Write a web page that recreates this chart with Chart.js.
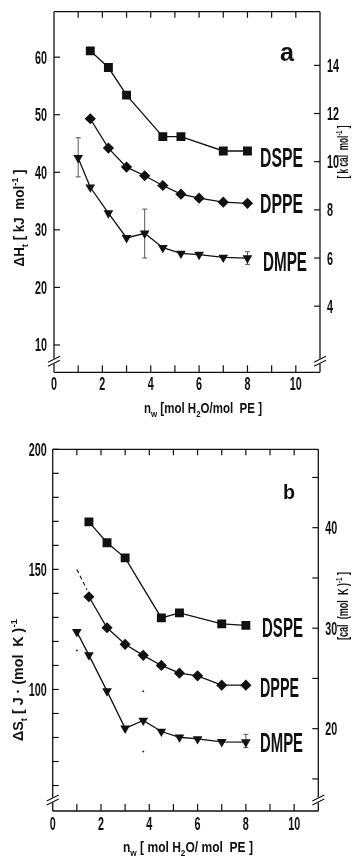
<!DOCTYPE html>
<html>
<head>
<meta charset="utf-8">
<script src="https://cdn.jsdelivr.net/npm/chart.js@4.4.1/dist/chart.umd.min.js"></script>
<style>
    html, body { margin: 0; padding: 0; background: #fff; }
    #wrap { position: relative; width: 355px; height: 857px; }
    canvas { position: absolute; left: 0; }
</style>
</head>
<body>
<div id="wrap">
    <canvas id="chartA" width="355" height="425" style="top:0"></canvas>
    <canvas id="chartB" width="355" height="432" style="top:425px"></canvas>
</div>
<script>
// valores
const xDSPE = [1.5, 2.25, 3, 4.5, 5.25, 7, 8];
const xDPPE = [1.5, 2.25, 3, 3.75, 4.5, 5.25, 6, 7, 8];
const xDMPE = [1, 1.5, 2.25, 3, 3.75, 4.5, 5.25, 6, 7, 8];

// panel a: entalpia (kJ/mol)
const dH_DSPE = [61.1, 58.2, 53.4, 46.2, 46.2, 43.7, 43.7];
const dH_DPPE = [49.3, 44.2, 40.9, 39.4, 37.7, 36.2, 35.5, 34.8, 34.6];
const dH_DMPE = [42.5, 37.4, 32.9, 28.6, 29.4, 26.9, 25.9, 25.7, 25.2, 25.1];

// panel b: entropia (J/(mol K))
const dS_DSPE = [169.8, 161.1, 154.8, 129.8, 131.9, 127.3, 126.7];
const dS_DPPE = [138.6, 125.7, 118.8, 114.2, 110.0, 106.8, 105.7, 101.8, 101.8];
const dS_DMPE = [124.0, 114.3, 99.3, 83.8, 87.1, 82.5, 80.1, 79.4, 78.2, 78.1];

// barras de error [x, bajo, alto]
const errA = [[1, 39.2, 46.0], [3.75, 25.1, 33.6], [8, 24.0, 26.2]];
const errB = [[8, 75.8, 81.3]];
const dotsB = [[1, 116.2], [3.75, 99.3], [3.75, 74.2]];
const dashB = [[1, 150], [1.42, 141.5]];

// ejes
const xTicks = [0, 1, 2, 3, 4, 5, 6, 7, 8, 9, 10];
const xLabels = [0, 2, 4, 6, 8, 10];
const yTicksA = [10, 20, 30, 40, 50, 60];
const y2TicksA = [4, 6, 8, 10, 12, 14];
const yTicksB = [60, 70, 80, 90, 100, 110, 120, 130, 140, 150, 160, 170, 180, 190, 200];
const yLabelsB = [100, 150, 200];
const y2TicksB = [15, 20, 25, 30, 35, 40, 45];
const y2LabelsB = [20, 30, 40];
const CAL = 4.184;

const FONT = '"Liberation Sans", Arial, sans-serif';
const INK = '#111';

// texto comprimido horizontalmente, con sub/superindices
function txt(ctx, parts, x, y, o) {
    const size = o.size, weight = o.weight || 'bold';
    ctx.save();
    ctx.translate(x, y);
    if (o.rot) ctx.rotate(o.rot);
    const items = parts.map(p => {
        const t = typeof p === 'string' ? p : p[0];
        const k = typeof p === 'string' ? 0 : p[1];
        const fs = k ? size * 0.68 : size;
        ctx.font = `${weight} ${fs}px ${FONT}`;
        return { t, k, fs, w: ctx.measureText(t).width };
    });
    const total = items.reduce((s, i) => s + i.w, 0);
    const sx = o.width ? o.width / total : (o.sx || 1);
    ctx.scale(sx, 1);
    let cx = -total / 2;
    if (o.align === 'left') cx = 0;
    if (o.align === 'right') cx = -total;
    ctx.fillStyle = INK;
    ctx.textBaseline = 'alphabetic';
    const base = size * 0.36;
    items.forEach(i => {
        ctx.font = `${weight} ${i.fs}px ${FONT}`;
        let dy = base;
        if (i.k === 1) dy += size * 0.28;
        if (i.k === 2) dy -= size * 0.42;
        ctx.fillText(i.t, cx, dy);
        cx += i.w;
    });
    ctx.restore();
}

function line(ctx, x1, y1, x2, y2) {
    ctx.beginPath();
    ctx.moveTo(x1, y1);
    ctx.lineTo(x2, y2);
    ctx.stroke();
}

function setTicks(list) {
    return s => { s.ticks = list.map(v => ({ value: v })); };
}

// marco, marcas interiores, cortes de eje y textos
function framePlugin(cfg) {
    return {
        id: 'frame',
        afterDraw(chart) {
            const ctx = chart.ctx;
            const a = chart.chartArea;
            const sx = chart.scales.x, sy = chart.scales.y, sy2 = chart.scales.y2;
            const brk = a.bottom - 11;
            ctx.save();
            ctx.strokeStyle = INK;
            ctx.lineWidth = 1.3;
            line(ctx, a.left, a.top, a.right, a.top);
            line(ctx, a.left, a.bottom, a.right, a.bottom);
            line(ctx, a.left, a.top, a.left, brk - 2.5);
            line(ctx, a.left, brk + 2.5, a.left, a.bottom);
            line(ctx, a.right, a.top, a.right, brk - 2.5);
            line(ctx, a.right, brk + 2.5, a.right, a.bottom);
            ctx.lineWidth = 1.1;
            [a.left, a.right].forEach(xx => {
                line(ctx, xx - 6, brk + 1, xx + 6, brk - 5);
                line(ctx, xx - 6, brk + 5, xx + 6, brk - 1);
            });
            ctx.lineWidth = 1.2;
            sx.ticks.forEach(t => {
                const p = sx.getPixelForValue(t.value);
                if (t.value > 0) {
                    line(ctx, p, a.bottom, p, a.bottom - 7);
                    line(ctx, p, a.top, p, a.top + 6);
                }
            });
            sy.ticks.forEach(t => {
                const p = sy.getPixelForValue(t.value);
                line(ctx, a.left, p, a.left + 6, p);
            });
            sy2.ticks.forEach(t => {
                const p = sy2.getPixelForValue(t.value);
                line(ctx, a.right - 6, p, a.right, p);
            });
            ctx.restore();

            xLabels.forEach(v => {
                txt(ctx, [String(v)], sx.getPixelForValue(v), a.bottom + cfg.xLabDy, { size: 18, sx: 0.6 });
            });
            cfg.yLabels.forEach(v => {
                txt(ctx, [String(v)], a.left - cfg.yLabPad, sy.getPixelForValue(v), { size: 18, sx: 0.6, align: 'right' });
            });
            cfg.y2Labels.forEach(v => {
                txt(ctx, [String(v)], a.right + cfg.y2LabPad, sy2.getPixelForValue(v), { size: 18, sx: 0.6, align: 'left' });
            });
            cfg.texts.forEach(t => txt(ctx, t.parts, t.x, t.y, t.o));
        }
    };
}

function series(xs, ys, style, r, rot) {
    return {
        data: xs.map((x, i) => ({ x: x, y: ys[i] })),
        showLine: true,
        borderColor: INK,
        borderWidth: 1.3,
        backgroundColor: INK,
        pointStyle: style,
        pointRadius: r,
        pointRotation: rot || 0,
        pointBorderWidth: 0
    };
}

function errSets(list) {
    return list.map(e => ({
        data: [{ x: e[0], y: e[1] }, { x: e[0], y: e[2] }],
        showLine: true,
        borderColor: '#444',
        borderWidth: 0.9,
        pointStyle: 'line',
        pointRadius: 2.5,
        pointBorderColor: '#444',
        pointBorderWidth: 0.9
    }));
}

function makeChart(id, p) {
    const datasets = [
        series(xDSPE, p.dspe, 'rect', 6.3),
        series(xDPPE, p.dppe, 'rectRot', 5.6),
        series(xDMPE, p.dmpe, 'triangle', 5.6, 180)
    ].concat(errSets(p.err));
    if (p.dots) {
        datasets.push({
            data: p.dots.map(d => ({ x: d[0], y: d[1] })),
            pointStyle: 'circle', pointRadius: 1, backgroundColor: '#333', borderWidth: 0
        });
    }
    if (p.dash) {
        datasets.push({
            data: p.dash.map(d => ({ x: d[0], y: d[1] })),
            showLine: true, borderColor: INK, borderWidth: 1.1, borderDash: [4, 3], pointRadius: 0
        });
    }
    return new Chart(document.getElementById(id), {
        type: 'scatter',
        data: { datasets: datasets },
        options: {
            responsive: false,
            animation: false,
            devicePixelRatio: 1,
            layout: { padding: { top: p.top, left: 0, right: 0, bottom: 0 }, autoPadding: false },
            plugins: { legend: { display: false }, tooltip: { enabled: false } },
            scales: {
                x: {
                    type: 'linear', min: 0, max: 11,
                    ticks: { display: false },
                    grid: { display: false }, border: { display: false },
                    afterBuildTicks: setTicks(xTicks),
                    afterFit: s => { s.height = p.bottomH; }
                },
                y: {
                    type: 'linear', position: 'left', min: p.yMin, max: p.yMax,
                    ticks: { display: false },
                    grid: { display: false }, border: { display: false },
                    afterBuildTicks: setTicks(p.yTicks),
                    afterFit: s => { s.width = p.leftW; }
                },
                y2: {
                    type: 'linear', position: 'right', min: p.yMin / CAL, max: p.yMax / CAL,
                    ticks: { display: false },
                    grid: { display: false }, border: { display: false },
                    afterBuildTicks: setTicks(p.y2Ticks),
                    afterFit: s => { s.width = p.rightW; }
                }
            }
        },
        plugins: [framePlugin(p.frame)]
    });
}

const UP = -Math.PI / 2;

makeChart('chartA', {
    dspe: dH_DSPE, dppe: dH_DPPE, dmpe: dH_DMPE, err: errA,
    yMin: 5.25, yMax: 67.9, yTicks: yTicksA, y2Ticks: y2TicksA,
    top: 11.7, bottomH: 52.7, leftW: 54, rightW: 35,
    frame: {
        xLabDy: 11, yLabPad: 7, y2LabPad: 7,
        yLabels: yTicksA, y2Labels: y2TicksA,
        texts: [
            { parts: ['DSPE'], x: 260, y: 157, o: { size: 27, width: 43, align: 'left' } },
            { parts: ['DPPE'], x: 260, y: 203, o: { size: 27, width: 43, align: 'left' } },
            { parts: ['DMPE'], x: 263, y: 261, o: { size: 27, width: 44, align: 'left' } },
            { parts: ['a'], x: 287, y: 52, o: { size: 26, width: 14 } },
            { parts: ['ΔH', ['t', 1], ' [ kJ  mol', ['-1', 2], ' ]'], x: 19, y: 218, o: { size: 14, width: 97, rot: UP } },
            { parts: ['[ k cal  mol', ['-1', 2], ' ]'], x: 343, y: 152, o: { size: 14, width: 53, rot: UP } },
            { parts: ['n', ['w', 1], ' [mol H', ['2', 1], 'O/mol  PE ]'], x: 203, y: 408, o: { size: 14, width: 118 } }
        ]
    }
});

makeChart('chartB', {
    dspe: dS_DSPE, dppe: dS_DPPE, dmpe: dS_DMPE, err: errB, dots: dotsB, dash: dashB,
    yMin: 49.4, yMax: 200, yTicks: yTicksB, y2Ticks: y2TicksB,
    top: 24.3, bottomH: 46, leftW: 52.7, rightW: 36.7,
    frame: {
        xLabDy: 12.3, yLabPad: 6, y2LabPad: 7,
        yLabels: yLabelsB, y2Labels: y2LabelsB,
        texts: [
            { parts: ['DSPE'], x: 262, y: 202, o: { size: 27, width: 41, align: 'left' } },
            { parts: ['DPPE'], x: 260, y: 262, o: { size: 27, width: 39, align: 'left' } },
            { parts: ['DMPE'], x: 260, y: 317, o: { size: 27, width: 43, align: 'left' } },
            { parts: ['b'], x: 289, y: 66, o: { size: 21, width: 12 } },
            { parts: ['ΔS', ['t', 1], ' [ J · (mol  K )', ['-1', 2]], x: 18, y: 255, o: { size: 14, width: 122, rot: UP } },
            { parts: ['[cal  (mol  K )', ['-1', 2], ' ]'], x: 343, y: 181, o: { size: 14, width: 68, rot: UP } },
            { parts: ['n', ['w', 1], ' [ mol H', ['2', 1], 'O/ mol  PE ]'], x: 188, y: 422, o: { size: 14, width: 130 } }
        ]
    }
});
</script>
</body>
</html>
